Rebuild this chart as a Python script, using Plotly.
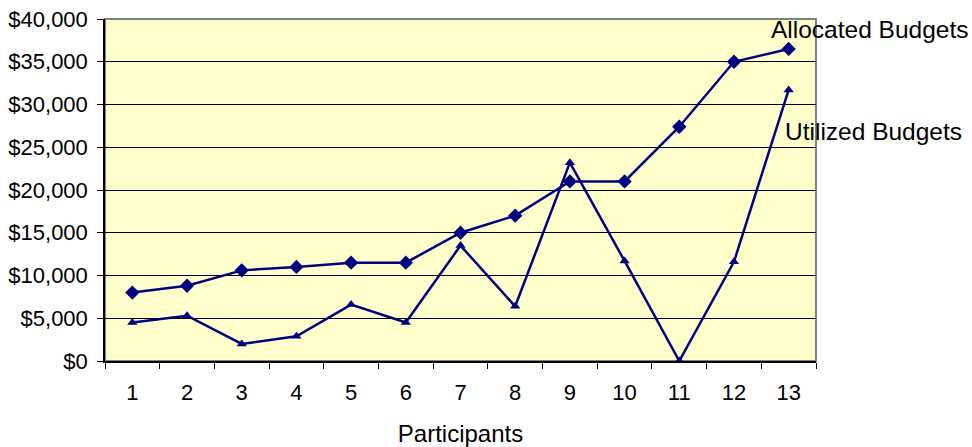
import plotly.graph_objects as go

# Budget data per participant
participants = [str(i) for i in range(1, 14)]
allocated = [8000, 8800, 10600, 11000, 11500, 11500, 15000, 17000, 21000, 21000, 27400, 35000, 36500]
utilized = [4500, 5300, 2000, 2900, 6600, 4500, 13500, 6400, 23200, 11700, 0, 11600, 31700]

y_ticks = list(range(0, 40001, 5000))
y_tick_labels = ["${:,}".format(v) for v in y_ticks]

navy = "#000080"
font_family = "Liberation Sans, Arial, sans-serif"

fig = go.Figure()
fig.add_trace(go.Scatter(
    x=participants, y=allocated, mode="lines+markers",
    name="Allocated Budgets",
    line=dict(color=navy, width=2.5),
    marker=dict(symbol="diamond", size=11, color=navy),
))
fig.add_trace(go.Scatter(
    x=participants, y=utilized, mode="lines+markers",
    name="Utilized Budgets",
    line=dict(color=navy, width=2.5),
    marker=dict(symbol="triangle-up", size=9, color=navy),
))

fig.update_layout(
    width=972, height=447,
    margin=dict(l=105, r=156, t=19, b=86),
    paper_bgcolor="white",
    plot_bgcolor="#FFFFCC",
    showlegend=False,
    font=dict(family=font_family, color="black", size=21),
    shapes=[dict(
        type="rect", xref="paper", yref="paper", x0=0, x1=1, y0=0, y1=1,
        line=dict(color="#808080", width=2), layer="between",
    )],
    annotations=[
        dict(text="Allocated Budgets", xref="paper", yref="paper",
             x=0.934, y=0.969, xanchor="left", yanchor="middle",
             showarrow=False, font=dict(size=24.5)),
        dict(text="Utilized Budgets", xref="paper", yref="paper",
             x=0.954, y=0.6715, xanchor="left", yanchor="middle",
             showarrow=False, font=dict(size=24.5)),
    ],
)

fig.update_xaxes(
    type="category",
    range=[-0.5, 12.5],
    tickson="boundaries",
    tickfont=dict(size=22),
    ticks="outside", ticklen=6, tickcolor="black", tickwidth=1,
    showline=True, linecolor="black", linewidth=1.5,
    showgrid=False, zeroline=False,
    title=dict(text="Participants", font=dict(size=24), standoff=21),
    ticklabelstandoff=11,
    automargin=False,
)
fig.update_yaxes(
    range=[0, 40000],
    tickmode="array", tickvals=y_ticks, ticktext=y_tick_labels,
    tickfont=dict(size=22),
    ticks="outside", ticklen=6, tickcolor="black", tickwidth=1,
    showline=True, linecolor="black", linewidth=1.5,
    showgrid=True, gridcolor="black", gridwidth=1,
    zeroline=False,
    ticklabelstandoff=5,
    automargin=False,
)

fig.write_html("out.html")
